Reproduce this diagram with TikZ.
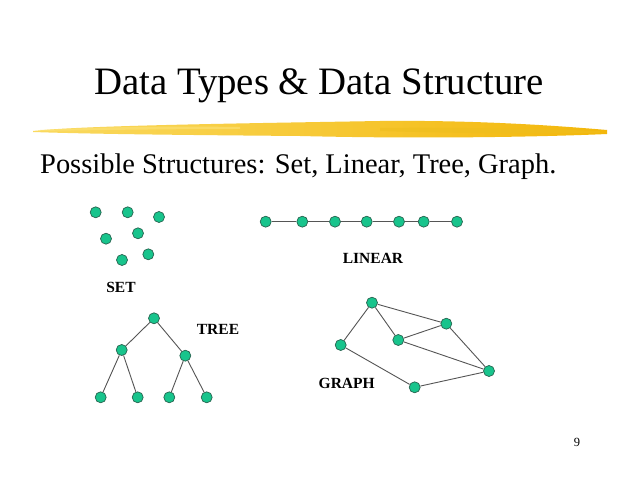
\documentclass[tikz,border=0pt]{standalone}
\usepackage{fontspec}
\setmainfont{Liberation Serif}
\definecolor{dotline}{RGB}{40,100,80}
\definecolor{dotfill}{RGB}{24,196,140}
\definecolor{edgec}{RGB}{85,85,85}
\definecolor{brushL}{RGB}{250,218,96}
\definecolor{brushR}{RGB}{243,183,10}
\definecolor{brushM}{RGB}{238,190,30}
\definecolor{brushH}{RGB}{252,226,120}
\begin{document}
\begin{tikzpicture}[x=1pt,y=-1pt,
  dot/.style={circle,draw=dotline,line width=0.7pt,fill=dotfill,inner sep=0pt,minimum size=11pt},
  edge/.style={draw=edgec,line width=0.9pt},
  lbl/.style={font=\fontsize{15.5}{17}\selectfont\bfseries,inner sep=0pt}]
\useasboundingbox (0,0) rectangle (638,478);
\fill[white] (0,0) rectangle (638,478);
% title
\node[inner sep=0pt] (title) at (319,86) {\fontsize{38.8}{42}\selectfont Data Types \& Data Structure};
% brush stroke
\shade[left color=brushL,right color=brushR]
 (33,131) .. controls (80,126) and (200,124) .. (380,121) .. controls (480,120) and (560,126) .. (607,130)
 -- (607,134) .. controls (540,137) and (420,139) .. (300,136) .. controls (180,135) and (90,134) .. (33,132) -- cycle;
\fill[brushM,opacity=0.6] (380,128) .. controls (450,127) and (540,129) .. (600,131) -- (600,133) .. controls (520,134) and (440,133) .. (380,131) -- cycle;
\fill[brushH,opacity=0.6] (40,130) .. controls (100,127) and (170,126) .. (240,127) -- (240,129) .. controls (170,129) and (100,130) .. (40,131) -- cycle;
% subtitle
\node[anchor=base west,inner sep=0pt] (sub) at (40,174) {\fontsize{28.45}{32}\selectfont Possible Structures: Set, Linear, Tree, Graph.};
% SET
\node[dot] (s1) at (95.7,212.3) {};
\node[dot] (s2) at (127.7,212.3) {};
\node[dot] (s3) at (159,217) {};
\node[dot] (s4) at (106,238.7) {};
\node[dot] (s5) at (138,233.3) {};
\node[dot] (s6) at (122,260) {};
\node[dot] (s7) at (148.3,254.3) {};
\node[lbl] (setl) at (121,287) {SET};
% LINEAR
\foreach \i/\x in {1/265.7,2/302.3,3/335,4/366.7,5/399,6/423.7,7/457}
  \node[dot] (l\i) at (\x,221.7) {};
\foreach \a/\b in {1/2,2/3,3/4,4/5,5/6,6/7}
  \path[edge] (l\a) -- (l\b);
\node[lbl] (linl) at (373,258) {LINEAR};
% TREE
\node[dot] (t0) at (154,318.3) {};
\node[dot] (tl) at (121.7,350) {};
\node[dot] (tr) at (185.3,355.7) {};
\node[dot] (t1) at (100.7,397.3) {};
\node[dot] (t2) at (137.7,397.3) {};
\node[dot] (t3) at (169.3,397.3) {};
\node[dot] (t4) at (206.7,397.3) {};
\path[edge] (t0) -- (tl) (t0) -- (tr) (tl) -- (t1) (tl) -- (t2) (tr) -- (t3) (tr) -- (t4);
\node[lbl] (treel) at (218,329) {TREE};
% GRAPH
\node[dot] (ga) at (372,302.7) {};
\node[dot] (gb) at (446.3,323.7) {};
\node[dot] (gc) at (398.3,340) {};
\node[dot] (gd) at (340.7,345) {};
\node[dot] (ge) at (489,371) {};
\node[dot] (gf) at (414.7,387.3) {};
\path[edge] (ga) -- (gb) (ga) -- (gd) (ga) -- (gc) (gc) -- (gb) (gc) -- (ge) (gb) -- (ge) (gd) -- (gf) (gf) -- (ge);
\node[lbl] (graphl) at (346.7,383) {GRAPH};
% page number
\node[inner sep=0pt] (pg) at (577,442) {\fontsize{12.5}{14}\selectfont 9};
\end{tikzpicture}
\end{document}
